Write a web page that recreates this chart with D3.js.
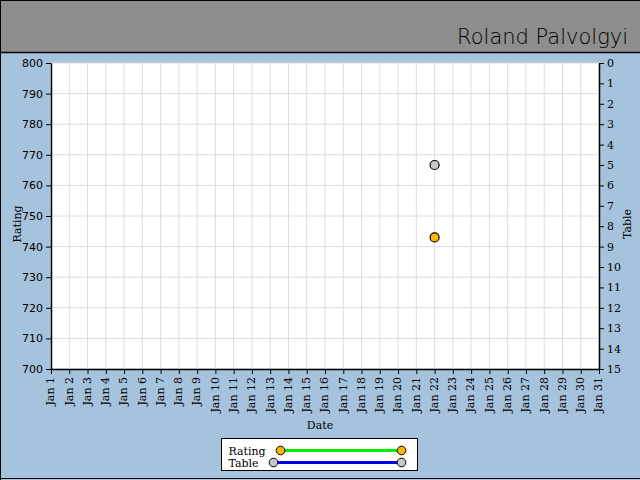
<!DOCTYPE html>
<html>
<head>
<meta charset="utf-8">
<script src="https://cdn.jsdelivr.net/npm/d3@7"></script>
<style>
  body { margin: 0; background: #a6c3dd; }
  svg { display: block; }
</style>
</head>
<body>
<svg id="chart"></svg>
<script>
// data
const dayLabels = d3.range(1, 32).map(d => "Jan " + d);
const ratingTicks = d3.range(700, 801, 10);
const tableTicks = d3.range(0, 16, 1);
const gameDays = [22];
const ratingValues = [743];
const tableValues = [5];
const playerName = "Roland Palvolgyi";

const W = 640, H = 480;
const margin = { top: 63, right: 41, bottom: 111, left: 51 },
  width = W - margin.left - margin.right,
  height = H - margin.top - margin.bottom;

const root = d3.select("#chart").attr("width", W).attr("height", H);

// background + header band
root.append("rect").attr("width", W).attr("height", H).attr("fill", "#a6c3dd");
root.append("rect").attr("width", W).attr("height", 52).attr("fill", "#8e8e8e");
root.append("line").attr("x1", 0).attr("x2", W).attr("y1", 52.5).attr("y2", 52.5)
  .attr("stroke", "black").attr("stroke-width", 1.5);
root.append("line").attr("x1", 0.5).attr("x2", 0.5).attr("y1", 0).attr("y2", H).attr("stroke", "black");
root.append("line").attr("x1", 0).attr("x2", W).attr("y1", 0.5).attr("y2", 0.5).attr("stroke", "black");
root.append("line").attr("x1", 0).attr("x2", W).attr("y1", H - 1.5).attr("y2", H - 1.5).attr("stroke", "black");

root.append("text")
  .attr("x", 628).attr("y", 44)
  .attr("text-anchor", "end")
  .style("font-family", "'Comic Sans MS', cursive, 'DejaVu Sans'")
  .style("font-weight", "200")
  .style("font-size", "21px")
  .attr("fill", "black")
  .text(playerName);

const svg = root.append("g")
  .attr("transform", "translate(" + margin.left + "," + margin.top + ")");

svg.append("rect").attr("width", width).attr("height", height).attr("fill", "white");

// scales
const x = d3.scalePoint().domain(dayLabels).range([0, width]);
const y = d3.scaleLinear().domain([700, 800]).range([height, 0]);
const y2 = d3.scaleLinear().domain([15, 0]).range([height, 0]);

// grid
svg.append("g").selectAll("line").data(dayLabels).join("line")
  .attr("x1", d => x(d)).attr("x2", d => x(d))
  .attr("y1", 0).attr("y2", height)
  .attr("stroke", "#dcdcdc");
svg.append("g").selectAll("line").data(ratingTicks).join("line")
  .attr("x1", 0).attr("x2", width)
  .attr("y1", d => y(d)).attr("y2", d => y(d))
  .attr("stroke", "#dcdcdc");

// axes
const xAxis = svg.append("g")
  .attr("transform", "translate(0," + height + ")")
  .call(d3.axisBottom(x).tickSize(5).tickSizeOuter(0));
xAxis.selectAll("text")
  .attr("transform", "rotate(-90)")
  .attr("x", -8).attr("y", -1)
  .attr("dy", "0.35em")
  .style("text-anchor", "end")
  .style("font-family", "'DejaVu Serif', serif")
  .style("font-size", "11px");

const yAxis = svg.append("g")
  .call(d3.axisLeft(y).tickValues(ratingTicks).tickSize(5).tickSizeOuter(0));
yAxis.selectAll("text")
  .style("font-family", "'DejaVu Sans', sans-serif")
  .style("font-size", "11px");

const y2Axis = svg.append("g")
  .attr("transform", "translate(" + width + ",0)")
  .call(d3.axisRight(y2).tickValues(tableTicks).tickSize(5).tickSizeOuter(0));
y2Axis.selectAll("text")
  .style("font-family", "'DejaVu Serif', serif")
  .style("font-size", "11px");

[xAxis, yAxis, y2Axis].forEach(a => {
  a.select(".domain").attr("stroke-width", 1.5);
  a.selectAll("text").attr("fill", "black");
});

// axis titles
root.append("text")
  .attr("transform", "translate(21,224) rotate(-90)")
  .attr("text-anchor", "middle")
  .style("font-family", "'DejaVu Serif', serif").style("font-size", "11px")
  .text("Rating");
root.append("text")
  .attr("transform", "translate(631,224) rotate(-90)")
  .attr("text-anchor", "middle")
  .style("font-family", "'DejaVu Serif', serif").style("font-size", "11px")
  .text("Table");
root.append("text")
  .attr("x", 320).attr("y", 429)
  .attr("text-anchor", "middle")
  .style("font-family", "'DejaVu Serif', serif").style("font-size", "11px")
  .text("Date");

// points
svg.append("g").selectAll("circle").data(gameDays).join("circle")
  .attr("cx", (d, i) => x(dayLabels[d - 1]))
  .attr("cy", (d, i) => y2(tableValues[i]))
  .attr("r", 4.5)
  .attr("fill", "#c8c8c8").attr("stroke", "black").attr("stroke-width", 1.2);
svg.append("g").selectAll("circle").data(gameDays).join("circle")
  .attr("cx", (d, i) => x(dayLabels[d - 1]))
  .attr("cy", (d, i) => y(ratingValues[i]))
  .attr("r", 4.5)
  .attr("fill", "#ffb400").attr("stroke", "black").attr("stroke-width", 1.2);

// legend
const legend = root.append("g").attr("transform", "translate(221.5,438.5)");
legend.append("rect").attr("width", 196).attr("height", 32)
  .attr("fill", "white").attr("stroke", "black");
const legendItems = [
  { name: "Rating", line: "#00ee00", fill: "#ffb400", x1: 59, y: 12 },
  { name: "Table", line: "#0000ee", fill: "#c8c8c8", x1: 52, y: 24 }
];
legendItems.forEach(it => {
  legend.append("text").attr("x", 7).attr("y", it.y + 4)
    .style("font-family", "'DejaVu Serif', serif").style("font-size", "11px")
    .text(it.name);
  legend.append("line").attr("x1", it.x1).attr("x2", 180)
    .attr("y1", it.y).attr("y2", it.y)
    .attr("stroke", it.line).attr("stroke-width", 3);
  [it.x1, 180].forEach(cx => legend.append("circle")
    .attr("cx", cx).attr("cy", it.y).attr("r", 4.3)
    .attr("fill", it.fill).attr("stroke", "black"));
});
</script>
</body>
</html>
